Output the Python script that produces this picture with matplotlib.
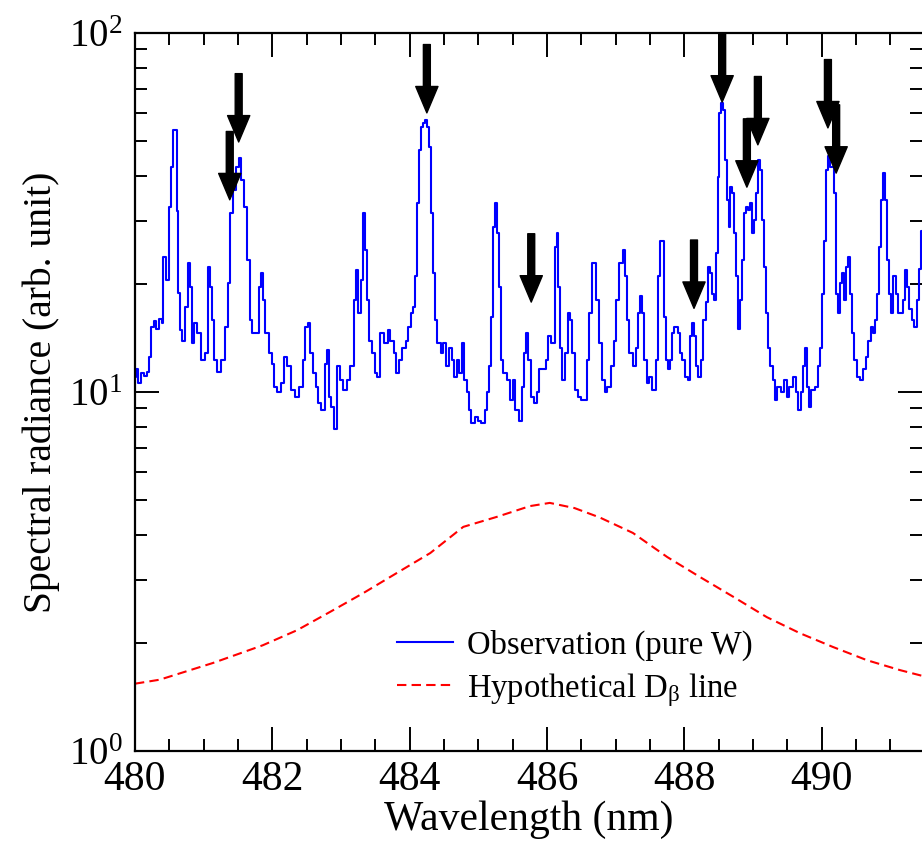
import numpy as np
import matplotlib
matplotlib.use('Agg')
import matplotlib.pyplot as plt
from matplotlib.ticker import LogLocator, MultipleLocator

plt.rcParams['font.family'] = ['Liberation Serif', 'DejaVu Serif']
plt.rcParams['mathtext.fontset'] = 'custom'
plt.rcParams['mathtext.rm'] = 'Liberation Serif'
plt.rcParams['mathtext.it'] = 'Liberation Serif:italic'

wl = [480.00, 480.03, 480.07, 480.10, 480.15, 480.19, 480.22, 480.25, 480.29, 480.33,
      480.38, 480.41, 480.42, 480.47, 480.51, 480.54, 480.57, 480.60, 480.61, 480.64,
      480.67, 480.71, 480.76, 480.79, 480.82, 480.84, 480.89, 480.93, 480.99, 481.05,
      481.08, 481.11, 481.14, 481.17, 481.22, 481.28, 481.33, 481.37, 481.41, 481.44,
      481.50, 481.53, 481.56, 481.62, 481.65, 481.69, 481.73, 481.78, 481.82, 481.85,
      481.88, 481.92, 481.97, 482.01, 482.05, 482.10, 482.14, 482.20, 482.24, 482.29,
      482.36, 482.42, 482.46, 482.50, 482.53, 482.56, 482.61, 482.65, 482.69, 482.74,
      482.78, 482.81, 482.84, 482.88, 482.93, 482.96, 483.01, 483.06, 483.10, 483.17,
      483.20, 483.23, 483.26, 483.31, 483.33, 483.36, 483.39, 483.42, 483.47, 483.51,
      483.55, 483.60, 483.66, 483.70, 483.74, 483.79, 483.82, 483.86, 483.92, 483.96,
      484.00, 484.03, 484.06, 484.09, 484.12, 484.15, 484.18, 484.21, 484.24, 484.27,
      484.30, 484.33, 484.35, 484.38, 484.43, 484.47, 484.51, 484.56, 484.59, 484.63,
      484.67, 484.70, 484.75, 484.78, 484.81, 484.85, 484.88, 484.92, 484.97, 485.02,
      485.07, 485.11, 485.14, 485.17, 485.20, 485.23, 485.26, 485.29, 485.32, 485.34,
      485.39, 485.43, 485.48, 485.52, 485.56, 485.61, 485.65, 485.68, 485.71, 485.74,
      485.78, 485.83, 485.87, 485.91, 485.96, 486.00, 486.04, 486.07, 486.10, 486.13,
      486.15, 486.17, 486.20, 486.23, 486.28, 486.32, 486.35, 486.38, 486.42, 486.47,
      486.51, 486.57, 486.60, 486.63, 486.67, 486.70, 486.73, 486.77, 486.82, 486.86,
      486.90, 486.95, 486.99, 487.03, 487.08, 487.12, 487.15, 487.18, 487.22, 487.27,
      487.31, 487.34, 487.37, 487.40, 487.43, 487.47, 487.51, 487.56, 487.60, 487.63,
      487.66, 487.69, 487.72, 487.75, 487.78, 487.81, 487.83, 487.88, 487.92, 487.95,
      487.99, 488.04, 488.07, 488.10, 488.13, 488.16, 488.18, 488.23, 488.26, 488.29,
      488.33, 488.36, 488.39, 488.42, 488.45, 488.48, 488.49, 488.52, 488.55, 488.58,
      488.61, 488.64, 488.65, 488.68, 488.71, 488.74, 488.77, 488.80, 488.82, 488.85,
      488.88, 488.91, 488.94, 488.97, 489.00, 489.03, 489.06, 489.09, 489.12, 489.15,
      489.17, 489.20, 489.23, 489.26, 489.31, 489.33, 489.38, 489.42, 489.47, 489.51,
      489.55, 489.60, 489.64, 489.68, 489.71, 489.74, 489.77, 489.80, 489.83, 489.87,
      489.92, 489.96, 489.99, 490.02, 490.05, 490.08, 490.11, 490.14, 490.16, 490.19,
      490.22, 490.25, 490.28, 490.31, 490.34, 490.37, 490.40, 490.43, 490.46, 490.49,
      490.53, 490.57, 490.62, 490.66, 490.70, 490.73, 490.76, 490.79, 490.82, 490.85,
      490.88, 490.91, 490.94, 490.97, 490.99, 491.02, 491.07, 491.10, 491.13, 491.17,
      491.20, 491.23, 491.26, 491.29, 491.33, 491.37, 491.40, 491.43, 491.46]
rad = [11.0, 11.6, 10.6, 11.3, 11.1, 11.4, 12.5, 15.2, 15.8, 15.0,
       16.0, 15.6, 23.8, 20.5, 32.8, 42.4, 53.7, 53.7, 32.0, 18.9,
       14.9, 13.9, 17.3, 22.9, 19.6, 13.7, 15.6, 14.6, 12.3, 12.8,
       22.3, 19.6, 15.9, 12.3, 11.4, 12.3, 15.2, 20.1, 31.5, 36.5,
       42.4, 44.8, 38.9, 32.8, 23.3, 15.9, 14.6, 14.6, 19.6, 21.4,
       18.0, 14.6, 12.8, 12.0, 10.3, 10.0, 10.6, 12.5, 11.8, 10.1,
       9.7, 10.3, 12.3, 15.2, 15.6, 12.8, 11.3, 10.3, 9.3, 8.9,
       12.0, 13.1, 9.7, 9.1, 7.9, 11.8, 10.8, 10.1, 10.8, 11.8,
       18.0, 21.9, 16.6, 20.5, 31.5, 24.9, 18.0, 13.9, 12.8, 11.3,
       11.0, 14.6, 13.7, 14.9, 13.9, 12.8, 11.3, 12.3, 13.3, 13.9,
       15.2, 16.6, 17.3, 21.0, 33.6, 47.3, 54.8, 56.3, 57.3, 54.8,
       48.2, 31.5, 21.4, 15.9, 13.7, 12.8, 13.7, 11.8, 13.3, 12.3,
       11.0, 12.3, 11.3, 13.7, 10.8, 10.0, 8.9, 8.2, 8.5, 8.3,
       8.2, 8.9, 10.0, 11.8, 16.2, 28.8, 33.6, 27.7, 19.6, 12.3,
       11.3, 10.8, 9.5, 10.8, 8.9, 8.3, 10.3, 12.8, 14.6, 12.3,
       9.7, 9.3, 10.0, 11.6, 11.6, 12.3, 14.3, 13.7, 13.7, 25.3,
       27.7, 19.6, 13.3, 10.8, 12.8, 16.6, 15.9, 12.8, 10.1, 9.7,
       9.5, 9.5, 12.3, 16.6, 22.9, 22.9, 18.0, 13.7, 10.8, 10.0,
       10.3, 11.8, 13.9, 18.0, 22.9, 24.9, 21.0, 15.9, 12.8, 11.8,
       13.3, 16.6, 18.5, 16.6, 12.3, 10.6, 11.0, 10.1, 12.3, 21.0,
       26.4, 26.4, 16.2, 12.3, 11.6, 12.3, 14.6, 15.2, 14.6, 12.8,
       12.3, 11.0, 10.8, 14.3, 15.6, 14.3, 11.8, 11.0, 12.3, 15.9,
       17.8, 22.3, 21.4, 18.8, 18.0, 24.4, 39.7, 59.8, 64.0, 61.0,
       44.3, 34.3, 28.8, 37.2, 35.8, 27.7, 21.0, 15.0, 18.0, 23.3,
       31.5, 32.8, 32.1, 33.6, 27.7, 30.1, 35.8, 44.3, 41.5, 30.1,
       22.3, 16.6, 13.3, 11.8, 10.8, 9.5, 10.3, 10.0, 10.8, 9.7,
       10.3, 11.0, 10.0, 8.9, 10.0, 11.8, 13.3, 10.3, 9.1, 10.1,
       10.3, 11.8, 13.3, 18.8, 26.4, 41.5, 45.5, 42.4, 42.4, 35.8,
       18.8, 16.6, 20.1, 21.4, 18.0, 22.3, 23.8, 18.8, 14.6, 12.3,
       11.0, 10.8, 11.6, 12.5, 13.9, 15.2, 14.6, 15.9, 18.8, 25.3,
       34.3, 40.7, 34.3, 23.3, 18.8, 16.6, 21.0, 18.8, 16.6, 16.6,
       18.0, 21.9, 19.6, 17.0, 15.9, 15.2, 18.0, 22.0, 28.0]

# hypothetical D-beta profile
wl_d = [480.00, 480.36, 481.14, 481.86, 482.36, 482.84, 483.32, 483.81, 484.30, 484.78,
        485.27, 485.75, 486.04, 486.40, 486.77, 487.25, 487.75, 488.23, 488.71, 489.20,
        489.68, 490.16, 490.66, 491.14, 491.46]
rad_d = [1.54, 1.58, 1.76, 1.97, 2.17, 2.44, 2.75, 3.13, 3.56, 4.21,
         4.49, 4.81, 4.91, 4.75, 4.47, 4.05, 3.47, 3.05, 2.69, 2.36,
         2.13, 1.95, 1.79, 1.68, 1.62]

# marked W lines (arrow tips)
arrow_wl = [481.38, 481.51, 484.25, 485.77, 488.14, 488.55, 488.91, 489.07, 490.09, 490.21]
arrow_tip = [34.3, 49.7, 59.9, 17.8, 17.1, 64.2, 37.2, 48.8, 54.4, 40.7]

fig = plt.figure(figsize=(9.22, 8.41), dpi=100)
ax = fig.add_axes([0.1464, 0.107, 0.8536, 0.8538])

ax.plot(wl, rad, color='#0000ff', lw=1.5, drawstyle='steps-mid',
        label='Observation (pure W)')
ax.plot(wl_d, rad_d, color='#ff0000', lw=1.5, dashes=(4.5, 2.5),
        label=r'Hypothetical $\mathrm{D}_{\mathrm{\beta}}$ line')

for x, y in zip(arrow_wl, arrow_tip):
    ax.annotate('', xy=(x, y), xytext=(x, y * 1.55),
                arrowprops=dict(width=5, headwidth=16, headlength=19,
                                facecolor='black', edgecolor='black', shrink=0))

ax.set_yscale('log')
ax.set_xlim(480, 491.46)
ax.set_ylim(1, 100)
ax.xaxis.set_major_locator(MultipleLocator(2))
ax.xaxis.set_minor_locator(MultipleLocator(0.5))
ax.yaxis.set_major_locator(LogLocator(base=10))
ax.yaxis.set_minor_locator(LogLocator(base=10, subs=np.arange(2, 10)))

ax.tick_params(which='both', direction='in', top=True, right=True, width=1.4)
ax.tick_params(which='major', length=17)
ax.tick_params(which='minor', length=8.6)
ax.tick_params(axis='x', pad=7, labelsize=30)
ax.tick_params(axis='y', pad=9, labelsize=28)
for s in ax.spines.values():
    s.set_linewidth(1.6)
ax.spines['right'].set_visible(False)

ax.set_xlabel('Wavelength (nm)', fontsize=30, labelpad=1)
ax.set_ylabel('Spectral radiance (arb. unit)', fontsize=28.5, labelpad=6)

ax.legend(loc='center left', bbox_to_anchor=(0.333, 0.114), frameon=False,
          fontsize=23.5, handlelength=1.7, handletextpad=0.45, labelspacing=0.3,
          borderpad=0, borderaxespad=0)

fig.savefig('out.png', dpi=100)
